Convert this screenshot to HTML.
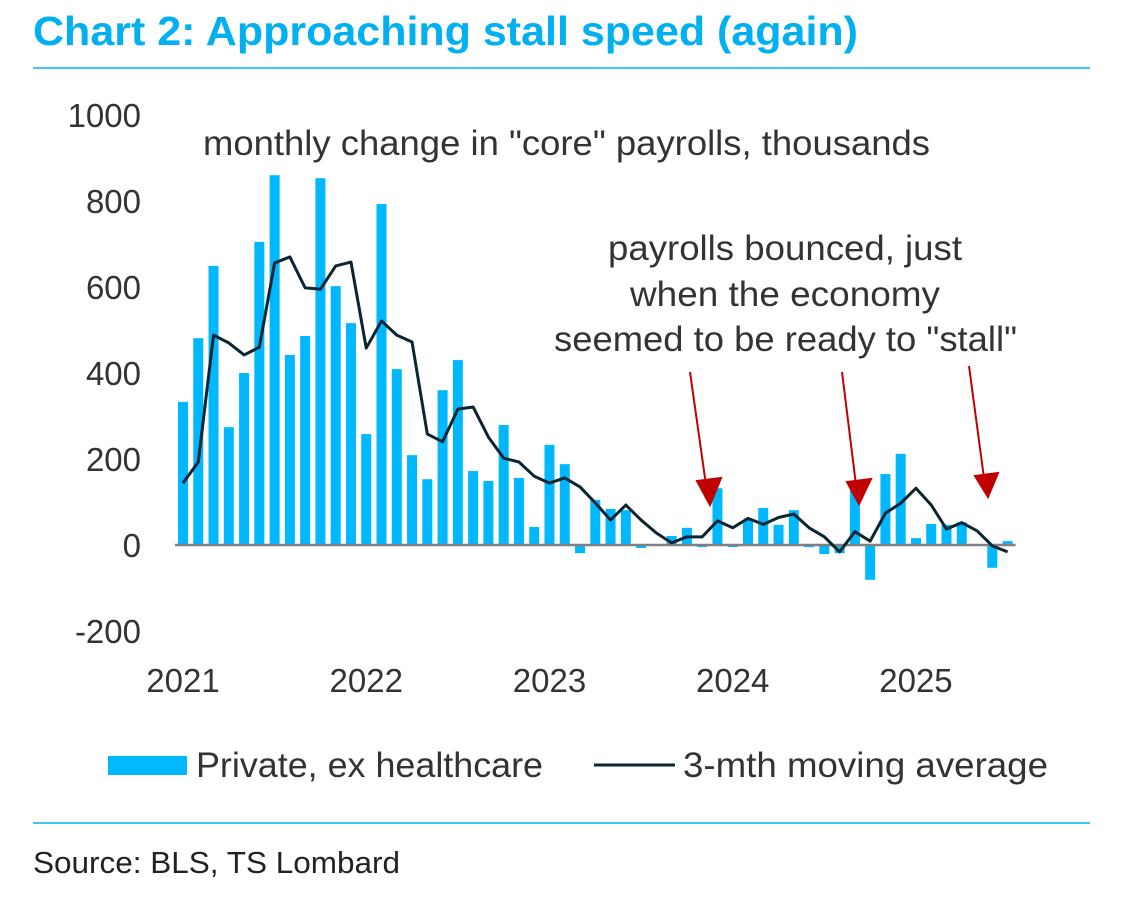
<!DOCTYPE html>
<html><head><meta charset="utf-8"><style>
body{margin:0;background:#fff;width:1136px;height:896px;overflow:hidden;font-family:"Liberation Sans",sans-serif}
</style></head><body>
<svg width="1136" height="896" font-family="Liberation Sans, sans-serif">
<text x="33" y="45" font-size="41" font-weight="bold" fill="#00b0f0" textLength="825" lengthAdjust="spacingAndGlyphs">Chart 2: Approaching stall speed (again)</text>
<line x1="33" y1="68" x2="1090" y2="68" stroke="#00b0f0" stroke-width="1.5"/>
<g id="yaxis"></g>
<g id="xaxis"></g>
<g id="bars"></g>
<line id="zero" stroke="#808080" stroke-width="2.5"/>
<polyline id="ma" fill="none" stroke="#0b2531" stroke-width="3" stroke-linejoin="round"/>
<text x="203" y="155" font-size="35" fill="#333" textLength="727" lengthAdjust="spacingAndGlyphs">monthly change in "core" payrolls, thousands</text>
<g font-size="35" fill="#333">
<text x="608" y="260" textLength="354" lengthAdjust="spacingAndGlyphs">payrolls bounced, just</text>
<text x="630" y="306" textLength="310" lengthAdjust="spacingAndGlyphs">when the economy</text>
<text x="554" y="351" textLength="463" lengthAdjust="spacingAndGlyphs">seemed to be ready to "stall"</text>
</g>
<g stroke="#c00000" stroke-width="2" fill="#c00000">
<line x1="690" y1="372" x2="706" y2="485"/><polygon points="697,481 721,478 710,505"/>
<line x1="842" y1="372" x2="856" y2="485"/><polygon points="847,482 871,479 859,504"/>
<line x1="969" y1="366" x2="984" y2="478"/><polygon points="975,476 998,473 988,497"/>
</g>
<g>
<rect x="108" y="756" width="79" height="19" fill="#00b8ff"/>
<text x="196" y="777" font-size="35" fill="#333" textLength="347" lengthAdjust="spacingAndGlyphs">Private, ex healthcare</text>
<line x1="594" y1="765" x2="675" y2="765" stroke="#0b2531" stroke-width="3"/>
<text x="683" y="777" font-size="35" fill="#333" textLength="365" lengthAdjust="spacingAndGlyphs">3-mth moving average</text>
</g>
<line x1="33" y1="823" x2="1090" y2="823" stroke="#00b0f0" stroke-width="1.5"/>
<text x="33" y="873" font-size="31" fill="#222" textLength="367" lengthAdjust="spacingAndGlyphs">Source: BLS, TS Lombard</text>
</svg>
<script>
const bars=[333,481,649,274,400,705,860,442,486,853,602,516,
258,793,409,209,153,360,430,172,149,279,156,42,
233,188,-19,105,84,81,-7,-2,21,40,-5,132,
-5,58,86,47,81,-5,-21,-19,130,-81,165,212,
16,49,47,53,-2,-53,9];
const ma=[144,193,488,470,442,460,656,670,598,595,649,658,
458,521,488,472,258,240,316,321,251,202,193,160,
144,156,135,98,58,93,58,28,5,19,19,56,
40,62,48,64,72,40,19,-16,31,9,74,97,
132,93,37,52,33,-2,-16];
const yTicks=[-200,0,200,400,600,800,1000];
const xLabels=["2021","2022","2023","2024","2025"];
const NS="http://www.w3.org/2000/svg";
const x0=183,mw=15.27,y0=545,ys=0.43;
const X=i=>x0+i*mw, Y=v=>y0-v*ys;
const yg=document.getElementById('yaxis');
yTicks.forEach(t=>{const e=document.createElementNS(NS,'text');


e.setAttribute('x',141);e.setAttribute('y',Y(t)+12);e.setAttribute('text-anchor','end');
e.setAttribute('font-size','33');e.setAttribute('fill','#333');e.textContent=t;yg.appendChild(e);});
const xg=document.getElementById('xaxis');
xLabels.forEach((l,i)=>{const e=document.createElementNS(NS,'text');


e.setAttribute('x',X(i*12));e.setAttribute('y',692);e.setAttribute('text-anchor','middle');
e.setAttribute('font-size','33');e.setAttribute('fill','#333');e.textContent=l;xg.appendChild(e);});
const bg=document.getElementById('bars');
bars.forEach((v,i)=>{const r=document.createElementNS(NS,'rect');


r.setAttribute('x',X(i)-5);r.setAttribute('width',10);
r.setAttribute('y',Math.min(Y(v),y0));r.setAttribute('height',Math.abs(v*ys));
r.setAttribute('fill','#00b8ff');bg.appendChild(r);});
const z=document.getElementById('zero');
z.setAttribute('x1',175);z.setAttribute('x2',X(bars.length-1)+8);z.setAttribute('y1',y0);z.setAttribute('y2',y0);
document.getElementById('ma').setAttribute('points',ma.map((v,i)=>X(i)+','+Y(v)).join(' '));
</script>
</body></html>
